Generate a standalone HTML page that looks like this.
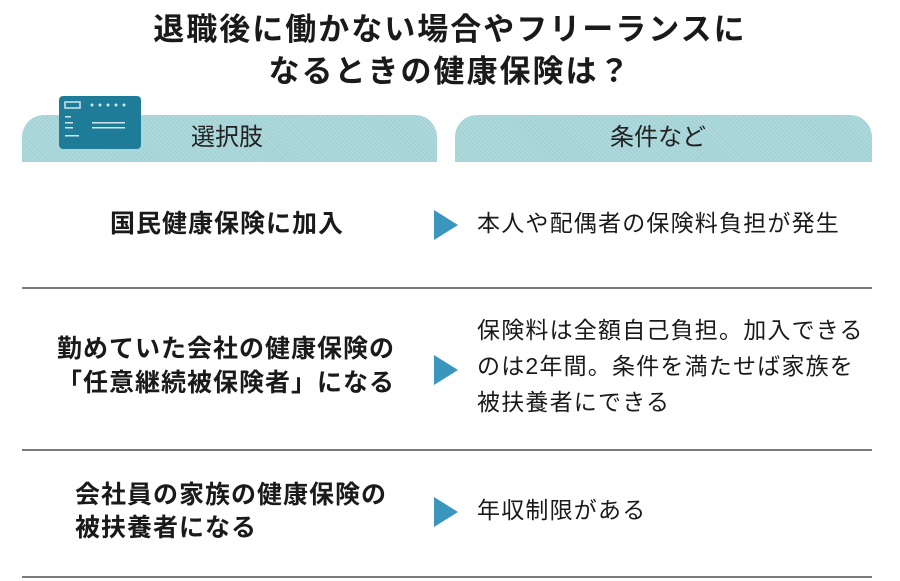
<!DOCTYPE html>
<html><head><meta charset="utf-8"><style>
body{margin:0;width:900px;height:581px;background:#fff;position:relative;overflow:hidden;font-family:"Liberation Sans","Noto Sans CJK JP",sans-serif;color:#1a1a1a}
.t{position:absolute;white-space:nowrap;line-height:1}
.title{font-size:31px;font-weight:bold;letter-spacing:2px;left:0;width:900px;text-align:center}
.hd{position:absolute;top:115px;height:47px;border-radius:22px 22px 0 0;background:#a3d3d6;background-image:repeating-linear-gradient(45deg,rgba(255,255,255,.18) 0 1px,transparent 1px 3px)}
.hl{font-size:24px;color:#222}
.l{font-size:25px;font-weight:bold;letter-spacing:1px}
.r{font-size:23px;letter-spacing:1.2px}
.line{position:absolute;left:22px;width:850px;height:2px;background:#7a7a7a}
.arr{position:absolute;width:0;height:0;border-top:15px solid transparent;border-bottom:15px solid transparent;border-left:24px solid #3a96bd}
</style></head><body>
<div class="t title" style="top:14px">退職後に働かない場合やフリーランスに</div>
<div class="t title" style="top:56px">なるときの健康保険は？</div>
<div class="hd" style="left:22px;width:415px"></div>
<div class="hd" style="left:455px;width:417px"></div>
<svg style="position:absolute;left:59px;top:96px" width="82" height="53">
<rect x="0" y="0" width="82" height="53" rx="4" fill="#1f7c98"/>
<rect x="6" y="6" width="15" height="6" fill="none" stroke="#cfe6ee" stroke-width="1.5"/>
<g fill="#cfe6ee"><circle cx="33" cy="9" r="1.5"/><circle cx="41" cy="9" r="1.5"/><circle cx="49" cy="9" r="1.5"/><circle cx="57" cy="9" r="1.5"/><circle cx="65" cy="9" r="1.5"/>
<rect x="6" y="20" width="6" height="1.5"/><rect x="6" y="26" width="8" height="1.5"/><rect x="6" y="31" width="8" height="1.5"/><rect x="6" y="39" width="14" height="1.5"/>
<rect x="33" y="26" width="33" height="1.5"/><rect x="33" y="31" width="33" height="1.5"/></g>
</svg>
<div class="t hl" style="left:191px;top:126px">選択肢</div>
<div class="t hl" style="left:610px;top:126px">条件など</div>

<div class="t l" style="left:110px;top:212px">国民健康保険に加入</div>
<div class="arr" style="left:434px;top:210px"></div>
<div class="t r" style="left:477px;top:212px">本人や配偶者の保険料負担が発生</div>
<div class="line" style="top:287px"></div>

<div class="t l" style="left:57px;top:337px">勤めていた会社の健康保険の</div>
<div class="t l" style="left:57px;top:371px">「任意継続被保険者」になる</div>
<div class="arr" style="left:434px;top:355px"></div>
<div class="t r" style="left:477px;top:319px">保険料は全額自己負担。加入できる</div>
<div class="t r" style="left:477px;top:355px">のは2年間。条件を満たせば家族を</div>
<div class="t r" style="left:477px;top:391px">被扶養者にできる</div>
<div class="line" style="top:449px"></div>

<div class="t l" style="left:75px;top:483px">会社員の家族の健康保険の</div>
<div class="t l" style="left:75px;top:516px">被扶養者になる</div>
<div class="arr" style="left:434px;top:497px"></div>
<div class="t r" style="left:477px;top:499px">年収制限がある</div>
<div class="line" style="top:576px"></div>
</body></html>
